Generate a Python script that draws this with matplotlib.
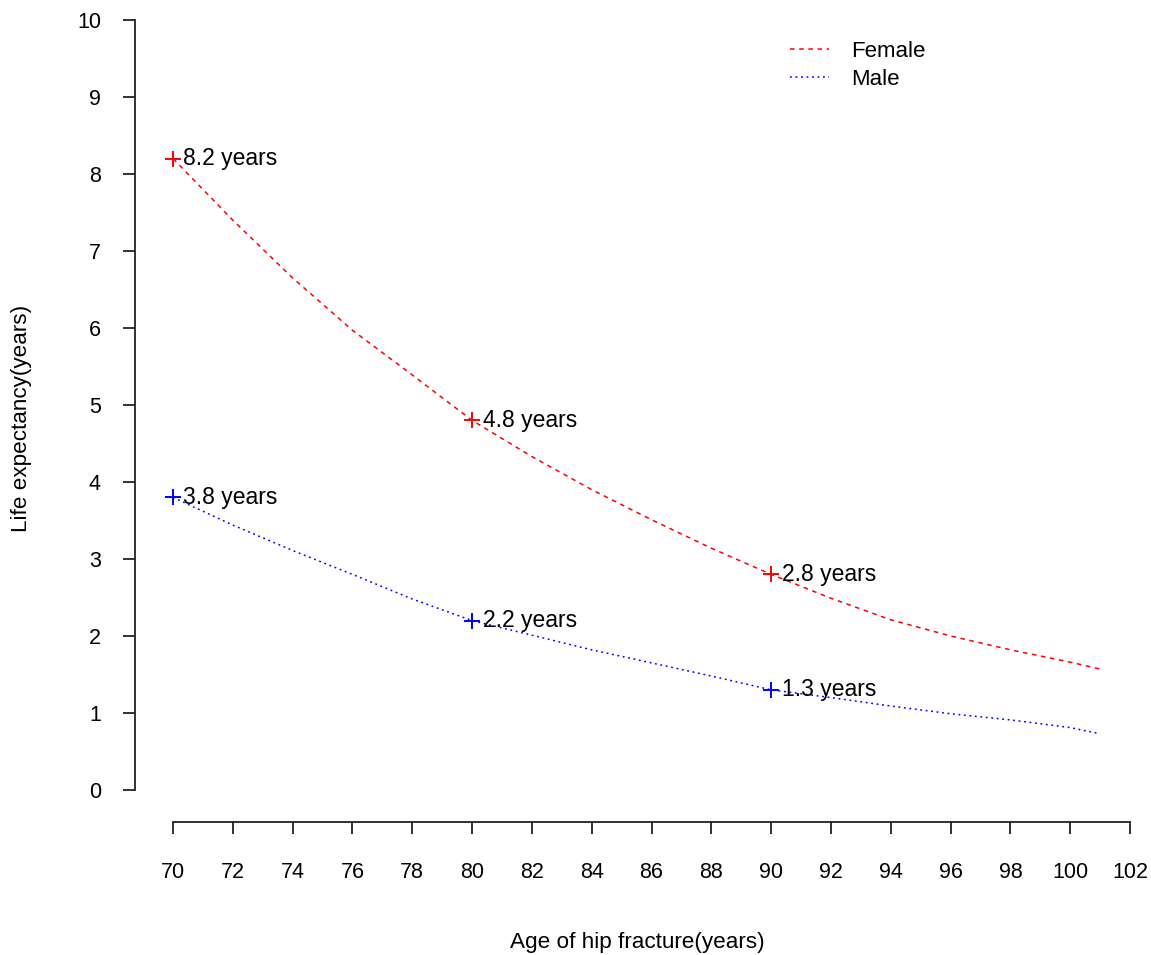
import matplotlib
matplotlib.use("Agg")
import matplotlib.pyplot as plt

plt.rcParams['font.family'] = ['Liberation Sans', 'DejaVu Sans']

# curve values
age = [70, 72, 74, 76, 78, 80, 82, 84, 86, 88, 90, 92, 94, 96, 98, 100, 101]
female = [8.2, 7.40, 6.65, 5.97, 5.39, 4.8, 4.33, 3.90, 3.51, 3.14, 2.8, 2.49, 2.21, 2.00, 1.82, 1.66, 1.57]
male = [3.8, 3.44, 3.11, 2.80, 2.48, 2.2, 2.01, 1.82, 1.65, 1.48, 1.3, 1.20, 1.09, 0.99, 0.91, 0.81, 0.73]

mark_age = [70, 80, 90]
female_mark = [8.2, 4.8, 2.8]
male_mark = [3.8, 2.2, 1.3]

xticks = list(range(70, 103, 2))
yticks = list(range(0, 11))

fig = plt.figure(figsize=(11.51, 9.55), dpi=100)
ax = fig.add_axes([0.1173, 0.1393, 0.8775, 0.8450])

lw = 1.1
ax.plot(age, female, color='red', lw=lw, dashes=(3, 3), label='Female')
ax.plot(age, male, color='blue', lw=lw, dashes=(1.2, 2.4), label='Male')

ax.plot(mark_age, female_mark, ls='none', marker='+', ms=11, mew=1.4, color='red')
ax.plot(mark_age, male_mark, ls='none', marker='+', ms=11, mew=1.4, color='blue')

for a, v in zip(mark_age, female_mark):
    ax.annotate(f"{v} years", (a, v), xytext=(7.5, 0), textcoords='offset points',
                va='center', ha='left', fontsize=16.5)
for a, v in zip(mark_age, male_mark):
    ax.annotate(f"{v} years", (a, v), xytext=(7.5, 0), textcoords='offset points',
                va='center', ha='left', fontsize=16.5)

ax.set_xlim(68.729, 102.50)
ax.set_ylim(-0.4156, 10.065)

for s in ['top', 'right']:
    ax.spines[s].set_visible(False)
ax.spines['left'].set_bounds(0, 10)
ax.spines['bottom'].set_bounds(70, 102)
for s in ['left', 'bottom']:
    ax.spines[s].set_linewidth(1.3)
    ax.spines[s].set_color('#222222')

ax.set_xticks(xticks)
ax.set_yticks(yticks)
ax.tick_params(axis='x', length=8.5, width=1.3, pad=20, labelsize=15.5, color='#222222')
ax.tick_params(axis='y', length=8.5, width=1.3, pad=16, labelsize=15.5, color='#222222')

fig.text(637 / 1151, 1 - 942 / 955, 'Age of hip fracture(years)', fontsize=16.2,
         ha='center', va='center')
fig.text(22 / 1151, 1 - 418 / 955, 'Life expectancy(years)', fontsize=16.2,
         ha='center', va='center', rotation=90)

leg = ax.legend(loc='upper left', bbox_to_anchor=(779 / 1151, 1 - 30 / 955),
                bbox_transform=fig.transFigure, frameon=False, fontsize=16,
                handlelength=1.75, handletextpad=1.0, labelspacing=0.3,
                borderpad=0)

fig.savefig('out.png', dpi=100)
